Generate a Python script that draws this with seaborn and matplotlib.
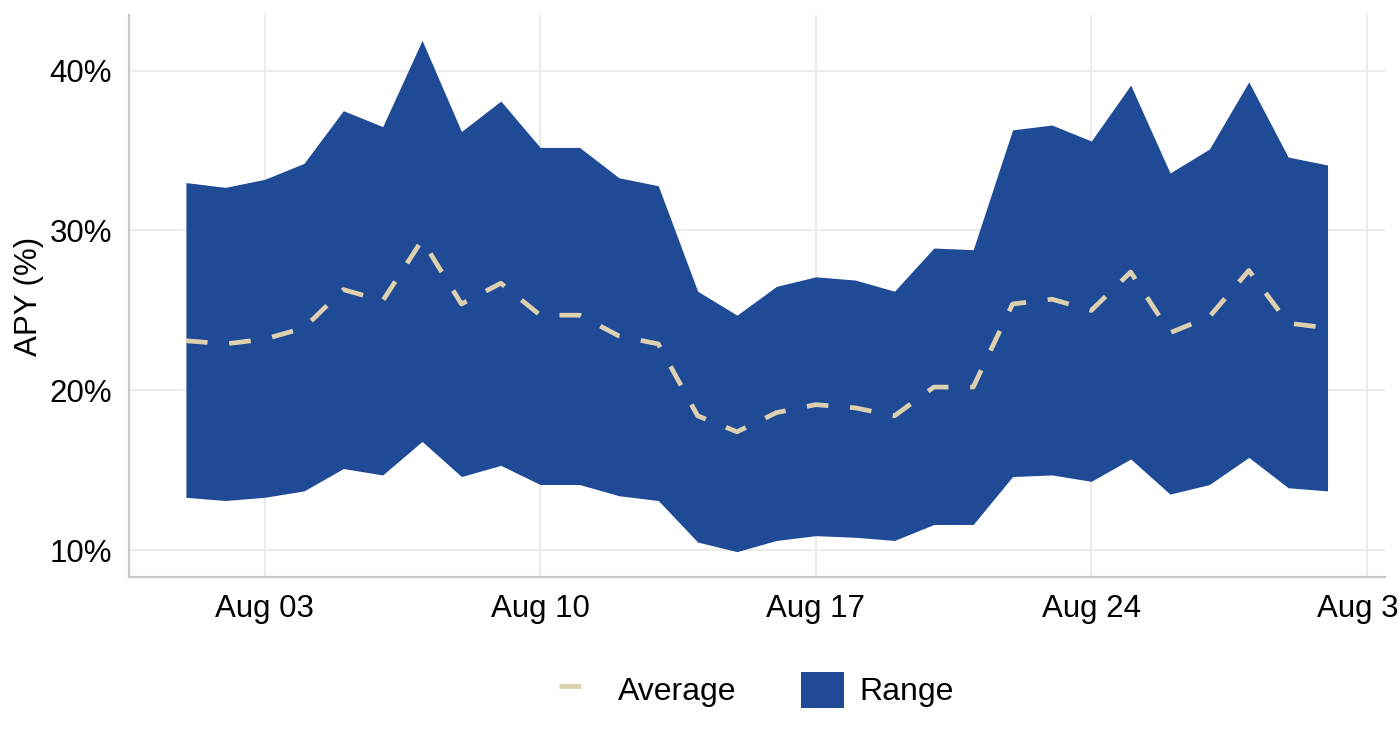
import matplotlib
matplotlib.use("Agg")
import matplotlib.pyplot as plt
import matplotlib.dates as mdates
import seaborn as sns
import pandas as pd
from matplotlib.lines import Line2D
from matplotlib.patches import Patch

# daily APY (%), Aug 1 - Aug 30
days = pd.date_range("2024-08-01", "2024-08-30", freq="D")
apy_high = [33.0, 32.7, 33.2, 34.2, 37.5, 36.5, 41.9, 36.2, 38.1, 35.2,
            35.2, 33.3, 32.8, 26.2, 24.7, 26.5, 27.1, 26.9, 26.2, 28.9,
            28.8, 36.3, 36.6, 35.6, 39.1, 33.6, 35.1, 39.3, 34.6, 34.1]
apy_low = [13.3, 13.1, 13.3, 13.7, 15.1, 14.7, 16.8, 14.6, 15.3, 14.1,
           14.1, 13.4, 13.1, 10.5, 9.9, 10.6, 10.9, 10.8, 10.6, 11.6,
           11.6, 14.6, 14.7, 14.3, 15.7, 13.5, 14.1, 15.8, 13.9, 13.7]
apy_avg = [23.1, 22.9, 23.2, 23.9, 26.3, 25.6, 29.4, 25.4, 26.7, 24.7,
           24.7, 23.4, 22.9, 18.4, 17.4, 18.6, 19.1, 18.9, 18.4, 20.2,
           20.2, 25.4, 25.7, 25.0, 27.4, 23.6, 24.6, 27.5, 24.2, 23.9]
y_ticks = [10, 20, 30, 40]
x_ticks = pd.to_datetime(["2024-08-03", "2024-08-10", "2024-08-17",
                          "2024-08-24", "2024-08-31"])

df = pd.DataFrame({"date": days, "high": apy_high, "low": apy_low, "avg": apy_avg})

BLUE = "#1E4A96"
SAND = "#DDD0AE"

sns.set_theme(style="whitegrid")
plt.rcParams["font.family"] = ["Liberation Sans", "DejaVu Sans"]

fig = plt.figure(figsize=(14, 7.4), dpi=100)
ax = fig.add_axes([0.092, 0.22, 0.897, 0.76])

ax.fill_between(df["date"], df["low"], df["high"], color=BLUE, linewidth=0, zorder=2)
sns.lineplot(data=df, x="date", y="avg", ax=ax, color=SAND, linewidth=3.4,
             dashes=False, zorder=3)
ax.lines[0].set_dashes((4.6, 4.6))

# ggplot-like 5% expansion
span = df["date"].iloc[-1] - df["date"].iloc[0]
ax.set_xlim(df["date"].iloc[0] - span * 0.05, df["date"].iloc[-1] + span * 0.05)
lo, hi = min(apy_low), max(apy_high)
ax.set_ylim(lo - (hi - lo) * 0.05, hi + (hi - lo) * 0.05)

ax.set_yticks(y_ticks)
ax.set_yticklabels([f"{v}%" for v in y_ticks])
ax.set_xticks(x_ticks)
ax.xaxis.set_major_formatter(mdates.DateFormatter("%b %d"))

ax.set_facecolor("white")
ax.grid(True, color="#EBEBEB", linewidth=1.4)
ax.set_axisbelow(True)
for side in ["top", "right"]:
    ax.spines[side].set_visible(False)
for side in ["left", "bottom"]:
    ax.spines[side].set_visible(True)
    ax.spines[side].set_color("#C8C8C8")
    ax.spines[side].set_linewidth(1.6)
ax.tick_params(axis="both", length=4, width=1.3, color="#333333",
               labelsize=22.5, labelcolor="black", pad=8)
for lab in ax.get_xticklabels():
    lab.set_clip_on(False)

ax.set_xlabel("")
ax.set_ylabel("APY (%)", fontsize=22.5, color="black", labelpad=4)

# legend centred under the panel, like ggplot
handles = [Line2D([0], [0], color=SAND, linewidth=3.4, dashes=(4.6, 4.6)),
           Patch(facecolor=BLUE, edgecolor="none")]
panel_mid = 0.092 + 0.897 / 2
fig.legend(handles, ["Average", "Range"], loc="center", bbox_to_anchor=(panel_mid, 0.068),
           ncol=2, frameon=False, fontsize=23, handlelength=1.35,
           handleheight=1.35, handletextpad=0.5, columnspacing=2.0,
           labelcolor="black")

fig.savefig("out.png", dpi=100, facecolor="white")
